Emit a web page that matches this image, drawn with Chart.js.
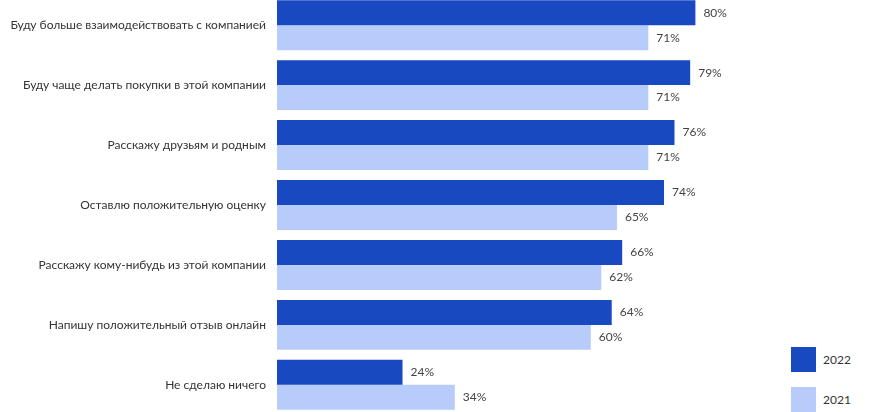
<!DOCTYPE html>
<html><head><meta charset="utf-8">
<script src="https://cdn.jsdelivr.net/npm/chart.js@4"></script>
<style>
html,body{margin:0;padding:0;background:#fff;overflow:hidden;width:870px;height:412px;}
#c{position:absolute;left:0;top:-5px;}
.leg{position:absolute;font-family:Lato,sans-serif;font-size:12px;color:#333;}
.sq{position:absolute;width:25px;height:25px;}
</style></head>
<body>
<div class="sq" style="left:791px;top:347px;background:#1849C0"></div>
<div class="leg" style="left:823px;top:352px">2022</div>
<div class="sq" style="left:791px;top:387px;background:#B7CCFB"></div>
<div class="leg" style="left:823px;top:392px">2021</div>
<script>
const categories = [
  "Буду больше взаимодействовать с компанией",
  "Буду чаще делать покупки в этой компании",
  "Расскажу друзьям и родным",
  "Оставлю положительную оценку",
  "Расскажу кому-нибудь из этой компании",
  "Напишу положительный отзыв онлайн",
  "Не сделаю ничего"
];
const values2022 = [80, 79, 76, 74, 66, 64, 24];
const values2021 = [71, 71, 71, 65, 62, 60, 34];
const seriesNames = ["2022", "2021"];

const valueLabels = {
  id: 'valueLabels',
  afterDatasetsDraw(chart) {
    const ctx = chart.ctx;
    ctx.save();
    ctx.font = '12px Lato, sans-serif';
    ctx.fillStyle = '#444';
    ctx.textAlign = 'left';
    ctx.textBaseline = 'middle';
    chart.data.datasets.forEach((ds, di) => {
      chart.getDatasetMeta(di).data.forEach((bar, i) => {
        ctx.fillText(ds.data[i] + '%', bar.x + 8, bar.y);
      });
    });
    ctx.restore();
  }
};

function build(h, top) {
  const old = document.getElementById('c');
  if (old) old.remove();
  const canvas = document.createElement('canvas');
  canvas.id = 'c';
  canvas.width = 870; canvas.height = h;
  canvas.style.width = '870px'; canvas.style.height = h + 'px';
  canvas.style.top = top + 'px';
  document.body.appendChild(canvas);
  return new Chart(canvas, {
    type: 'bar',
    data: {
      labels: categories,
      datasets: [
        {label: seriesNames[0], data: values2022, backgroundColor: '#1849C0'},
        {label: seriesNames[1], data: values2021, backgroundColor: '#B7CCFB'}
      ]
    },
    options: {
      indexAxis: 'y',
      responsive: false,
      devicePixelRatio: 1,
      animation: false,
      layout: {padding: {left: 0, right: 70, top: 0, bottom: 0}},
      datasets: {bar: {categoryPercentage: 50/60, barPercentage: 1.0}},
      plugins: {legend: {display: false}, tooltip: {enabled: false}},
      scales: {
        x: {display: false, min: 0, max: 100},
        y: {
          grid: {display: false, drawTicks: false},
          border: {display: false},
          ticks: {padding: 11, color: '#333', font: {family: 'Lato, sans-serif', size: 12}},
          afterFit(scale) { scale.width = 277; }
        }
      }
    },
    plugins: [valueLabels]
  });
}
// plot area must be exactly 7 x 60px, starting 5px above the page top
let H = 420;
let chart = build(H, -5);
for (let k = 0; k < 3; k++) {
  const a = chart.chartArea;
  if (Math.abs((a.bottom - a.top) - 420) < 0.5) break;
  const top = a.top, bottomPad = H - a.bottom;
  chart.destroy();
  H = 420 + top + bottomPad;
  chart = build(H, -5 - top);
}
</script>
</body></html>
